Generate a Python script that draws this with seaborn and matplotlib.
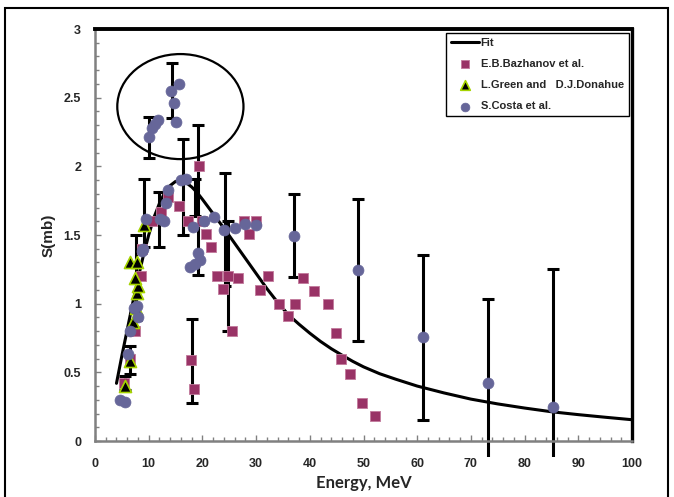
import matplotlib
matplotlib.use("Agg")
import matplotlib.pyplot as plt
import seaborn as sns
from matplotlib.patches import Ellipse, Rectangle
from matplotlib.ticker import MultipleLocator

# Fitted excitation function S(E)
fit_energy = [4.0, 5.0, 6.0, 7.0, 8.0, 9.0, 10.0, 11.0, 12.0, 13.0, 14.0, 15.0,
              16.0, 17.0, 18.0, 19.0, 20.0, 22.0, 24.0, 26.0, 28.0, 30.0, 32.0,
              34.0, 36.0, 38.0, 40.0, 42.0, 44.0, 46.0, 48.0, 50.0, 53.0, 56.0,
              60.0, 65.0, 70.0, 75.0, 80.0, 85.0, 90.0, 95.0, 100.0]
fit_s = [0.42, 0.62, 0.81, 1.00, 1.18, 1.35, 1.50, 1.63, 1.73, 1.81, 1.86, 1.89,
         1.895, 1.88, 1.85, 1.81, 1.76, 1.655, 1.55, 1.44, 1.33, 1.22, 1.11,
         1.01, 0.92, 0.85, 0.785, 0.725, 0.672, 0.625, 0.58, 0.54, 0.49, 0.45,
         0.40, 0.35, 0.305, 0.27, 0.24, 0.213, 0.192, 0.173, 0.155]

# E.B.Bazhanov et al.
bazhanov_energy = [5.4, 6.5, 7.4, 8.5, 8.8, 10.7, 12.3, 13.65, 15.7, 17.3, 17.8,
                   18.5, 19.3, 19.9, 20.65, 21.65, 22.75, 23.75, 24.7, 25.6,
                   26.65, 27.7, 28.7, 30.0, 30.7, 32.25, 34.3, 35.9, 37.2, 38.8,
                   40.8, 43.3, 44.8, 45.9, 47.4, 49.7, 52.1]
bazhanov_s = [0.42, 0.60, 0.80, 1.20, 1.40, 1.60, 1.67, 1.78, 1.71, 1.60, 0.59,
              0.38, 2.00, 1.60, 1.51, 1.41, 1.20, 1.11, 1.20, 0.80,
              1.19, 1.60, 1.51, 1.60, 1.10, 1.20, 1.00, 0.91, 1.00, 1.19,
              1.09, 1.00, 0.79, 0.60, 0.49, 0.28, 0.18]

# L.Green and D.J.Donahue
green_energy = [5.5, 6.6, 7.0, 7.7, 7.9, 8.0, 7.4, 6.6, 7.8, 9.2]
green_s = [0.40, 0.58, 0.87, 0.97, 1.08, 1.13, 1.19, 1.30, 1.30, 1.57]

# S.Costa et al.
costa_energy = [4.65, 5.6, 6.2, 6.5, 7.3, 7.75, 8.1, 8.7, 9.0, 9.5, 10.1, 10.7,
                11.2, 11.7, 12.1, 12.8, 13.2, 13.65, 14.15, 14.65, 15.15, 15.65,
                16.1, 16.9, 17.7, 18.3, 18.6, 19.25, 19.6, 20.3, 22.2, 24.1,
                26.1, 28.0, 29.9, 37.1, 49.0, 61.1, 73.1, 85.2]
costa_s = [0.30, 0.285, 0.63, 0.80, 0.97, 0.98, 0.90, 1.38, 1.40, 1.62, 2.21, 2.28,
           2.31, 2.34, 1.62, 1.60, 1.73, 1.83, 2.55, 2.46, 2.32, 2.60,
           1.90, 1.91, 1.27, 1.56, 1.29, 1.37, 1.32, 1.60, 1.63, 1.54,
           1.55, 1.58, 1.57, 1.495, 1.245, 0.755, 0.425, 0.25]

# Uncertainties (centre, lower, upper)
err_energy = [5.5, 6.5, 7.6, 9.2, 11.9, 10.1, 14.3, 16.3, 18.0, 18.6, 19.2,
              24.2, 24.7, 37.1, 49.0, 61.1, 73.1, 85.2]
err_s = [0.42, 0.59, 1.19, 1.66, 1.615, 2.21, 2.55, 1.85, 0.585, 1.77, 1.755,
         1.54, 1.20, 1.495, 1.245, 0.755, 0.425, 0.25]
err_low = [0.05, 0.10, 0.31, 0.245, 0.20, 0.15, 0.20, 0.35, 0.305, 0.135, 0.545,
           0.41, 0.40, 0.30, 0.515, 0.60, 0.60, 1.00]
err_high = [0.05, 0.10, 0.31, 0.245, 0.20, 0.15, 0.20, 0.35, 0.305, 0.135, 0.545,
            0.41, 0.40, 0.30, 0.515, 0.60, 0.61, 1.00]

x_ticks = [0, 10, 20, 30, 40, 50, 60, 70, 80, 90, 100]
y_ticks = [0, 0.5, 1, 1.5, 2, 2.5, 3]
y_tick_labels = ["0", "0.5", "1", "1.5", "2", "2.5", "3"]

sns.set_style("white")
plt.rcParams["font.family"] = ["Liberation Sans", "DejaVu Sans"]

W, H = 674, 497
fig = plt.figure(figsize=(W / 100, H / 100), dpi=100)
ax = fig.add_axes([95 / W, 1 - 441 / H, 537 / W, 412 / H])

# fitted curve
sns.lineplot(x=fit_energy, y=fit_s, ax=ax, color="black", linewidth=2.2,
             label="Fit", zorder=2, estimator=None)

# uncertainties
eb = ax.errorbar(err_energy, err_s, yerr=[err_low, err_high], fmt="none",
                 ecolor="black", elinewidth=2.2, capsize=4, capthick=2.2,
                 zorder=2.5, label="_nolegend_")
clip_rect = Rectangle((0, -0.12), 100, 3.2, transform=ax.transData)
for art in list(eb[1]) + list(eb[2]):
    art.set_clip_path(clip_rect)

sns.scatterplot(x=bazhanov_energy, y=bazhanov_s, ax=ax, marker="s", s=58,
                color="#993366", edgecolor="#c27a9c", linewidth=0.6,
                label="E.B.Bazhanov et al.", zorder=3)
sns.scatterplot(x=green_energy, y=green_s, ax=ax, marker="^", s=75,
                color="black", edgecolor="#a6d400", linewidth=1.2,
                label="L.Green and   D.J.Donahue", zorder=3.2)
sns.scatterplot(x=costa_energy, y=costa_s, ax=ax, marker="o", s=62,
                color="#666699", edgecolor="#666699", linewidth=0.5,
                label="S.Costa et al.", zorder=3.4)

# highlighted cluster
ax.add_patch(Ellipse((15.9, 2.435), 23.5, 0.765, fill=False,
                     edgecolor="black", linewidth=1.6, zorder=4))

ax.set_xlim(0, 100)
ax.set_ylim(0, 3)
ax.set_xticks(x_ticks)
ax.set_xticklabels([str(t) for t in x_ticks], fontsize=9, fontweight="bold")
ax.set_yticks(y_ticks)
ax.set_yticklabels(y_tick_labels, fontsize=9, fontweight="bold")
ax.xaxis.set_minor_locator(MultipleLocator(2))
ax.yaxis.set_minor_locator(MultipleLocator(0.1))
ax.tick_params(axis="both", which="both", direction="in", color="#808080",
               width=1, bottom=True, left=True)
ax.tick_params(axis="both", which="major", length=4)
ax.tick_params(axis="both", which="minor", length=3)
ax.tick_params(axis="x", which="major", pad=12)
ax.tick_params(axis="y", which="major", pad=10)

ax.set_xlabel("Energy, MeV", fontsize=12, fontweight="bold",
              family=["Lato", "DejaVu Sans"], labelpad=4)
ax.set_ylabel("S(mb)", fontsize=11, fontweight="bold", labelpad=6)

for side in ("left", "bottom"):
    ax.spines[side].set_color("#808080")
    ax.spines[side].set_linewidth(1.8)
ax.spines["top"].set_color("black")
ax.spines["top"].set_linewidth(2.8)
ax.spines["right"].set_color("black")
ax.spines["right"].set_linewidth(2.4)

leg = ax.legend(loc="upper right", bbox_to_anchor=(0.994, 0.99),
                prop={"size": 8, "weight": "bold"}, frameon=True,
                fancybox=False, framealpha=1, edgecolor="black",
                handlelength=2.5, handletextpad=0.15, labelspacing=1.0,
                borderpad=0.45, borderaxespad=0, markerscale=0.8)
leg.get_frame().set_linewidth(1.0)

# outer chart frame
fig.patches.append(Rectangle((5 / W, -0.05), 663 / W, 1.05 - 8 / H,
                             transform=fig.transFigure, fill=False,
                             edgecolor="black", linewidth=1.5))

fig.savefig("out.png", dpi=100)
